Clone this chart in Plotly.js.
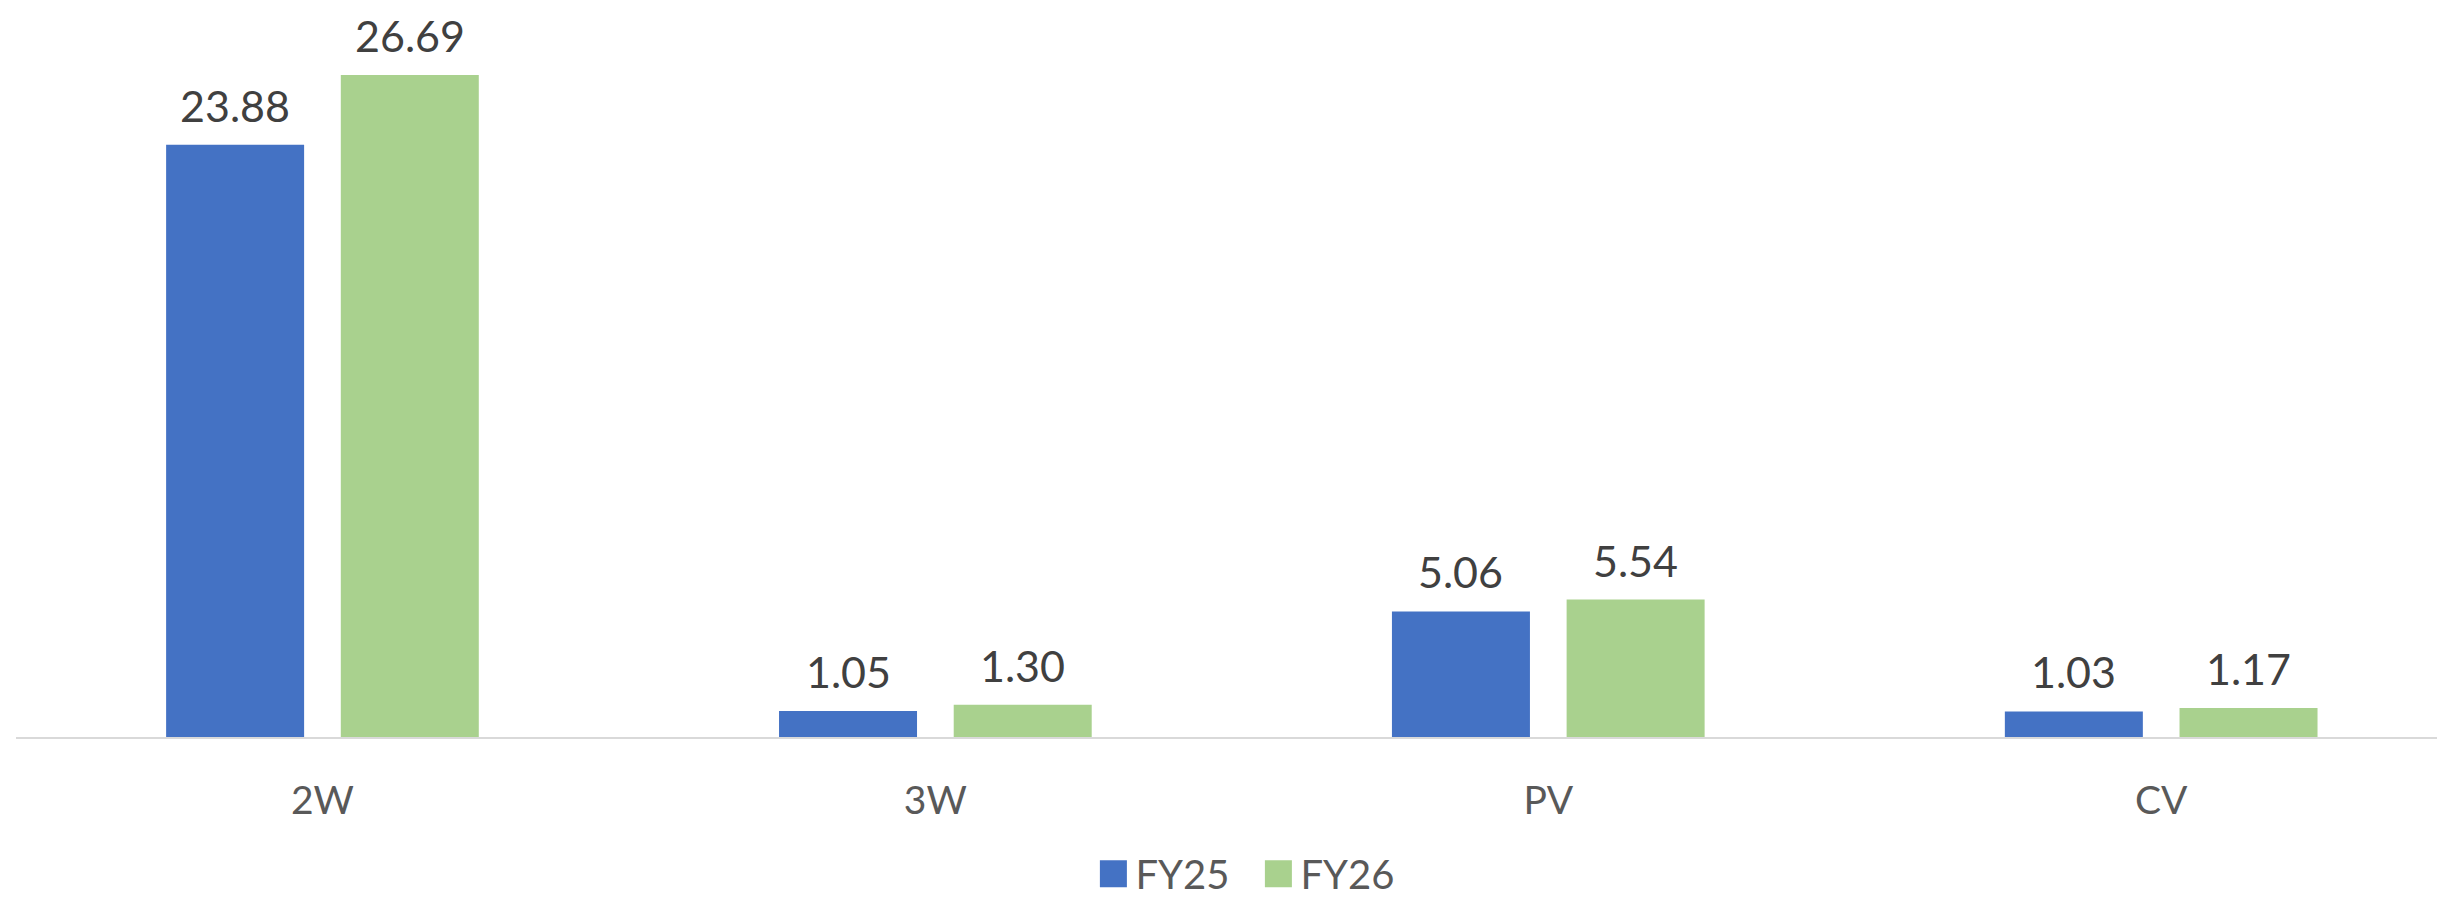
<!DOCTYPE html>
<html>
<head>
<meta charset="utf-8">
<script src="https://cdn.plot.ly/plotly-3.0.1.min.js"></script>
<style>
  html, body { margin: 0; padding: 0; background: #fff; }
  #chart { width: 2449px; height: 898px; }
</style>
</head>
<body>
<div id="chart"></div>
<script>
// data
var categories = ['2W', '3W', 'PV', 'CV'];
var fy25 = [23.88, 1.05, 5.06, 1.03];
var fy26 = [26.69, 1.30, 5.54, 1.17];
var seriesNames = ['FY25', 'FY26'];
var seriesColors = ['#4472C4', '#A9D18E'];

var W = 2449, H = 898;
var margin = {l: 16, r: 12, t: 40, b: 161};
var xRange = [-0.5, 3.45];
var bargap = 0.43;

var fontFam = 'Lato, "Open Sans", sans-serif';

var traces = [fy25, fy26].map(function (vals, i) {
  return {
    type: 'bar',
    name: seriesNames[i],
    x: categories,
    y: vals,
    marker: {color: seriesColors[i]},
    hoverinfo: 'x+y+name'
  };
});

// value labels sit a little above each bar, like Excel does
var catPx = (W - margin.l - margin.r) / (xRange[1] - xRange[0]);
var slotPx = catPx * (1 - bargap) / 2;
var annotations = [];
[fy25, fy26].forEach(function (vals, i) {
  vals.forEach(function (v, j) {
    annotations.push({
      x: categories[j], y: v, xref: 'x', yref: 'y',
      xshift: (i - 0.5) * slotPx,
      yshift: 12,
      yanchor: 'bottom',
      text: v.toFixed(2),
      showarrow: false,
      font: {family: fontFam, size: 43, color: '#404040'}
    });
  });
});

var layout = {
  width: W,
  height: H,
  margin: margin,
  barmode: 'group',
  bargap: bargap,
  bargroupgap: 0.21,
  paper_bgcolor: '#fff',
  plot_bgcolor: '#fff',
  font: {family: fontFam, color: '#595959'},
  xaxis: {
    range: xRange,
    showline: true,
    linecolor: '#D9D9D9',
    linewidth: 2,
    showgrid: false,
    ticks: 'outside',
    ticklen: 28,
    tickcolor: 'rgba(0,0,0,0)',
    tickfont: {size: 39, color: '#595959'}
  },
  yaxis: {
    range: [0, 28.1],
    visible: false,
    showgrid: false,
    zeroline: false
  },
  showlegend: true,
  legend: {
    orientation: 'h',
    x: 0.514,
    xanchor: 'center',
    yref: 'container',
    y: 0.027,
    yanchor: 'middle',
    font: {size: 40, color: '#595959'},
    entrywidth: 120,
    itemwidth: 30
  },
  annotations: annotations
};

Plotly.newPlot('chart', traces, layout, {displayModeBar: false}).then(function (gd) {
  // Excel legend keys are much bigger than plotly's 12px bar swatch
  gd.querySelectorAll('.legend .legendpoints path').forEach(function (p) {
    var t = p.getAttribute('transform') || '';
    p.setAttribute('transform', t + ' translate(-2,0) scale(2.25)');
  });
});
</script>
</body>
</html>
